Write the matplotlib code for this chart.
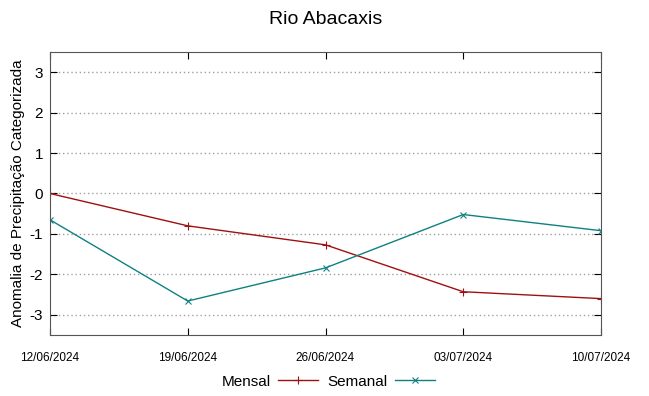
import matplotlib
matplotlib.use("Agg")
import matplotlib.pyplot as plt
from matplotlib.ticker import MultipleLocator

dates = ["12/06/2024", "19/06/2024", "26/06/2024", "03/07/2024", "10/07/2024"]
mensal = [0.0, -0.8, -1.27, -2.43, -2.6]
semanal = [-0.65, -2.66, -1.84, -0.52, -0.92]

plt.rcParams['font.family'] = ['Liberation Sans', 'DejaVu Sans']
plt.rcParams['axes.unicode_minus'] = False

fig = plt.figure(figsize=(6.49, 3.96), dpi=100)
ax = fig.add_axes([50 / 649, 1 - 335 / 396, 551 / 649, 283 / 396])

x = list(range(len(dates)))
ax.plot(x, mensal, color='#a01010', lw=1, marker='+', ms=6, mew=0.8, label='Mensal')
ax.plot(x, semanal, color='#108080', lw=1, marker='x', ms=4.5, mew=0.8, label='Semanal')

ax.set_xlim(0, len(dates) - 1)
ax.set_ylim(-3.5, 3.5)
ax.yaxis.set_major_locator(MultipleLocator(1))
ax.set_xticks(x)
ax.set_xticklabels(dates, fontsize=8.5)
ax.tick_params(axis='y', labelsize=11, direction='in', right=True, length=5, pad=5)
ax.tick_params(axis='x', direction='in', top=True, length=5, pad=12)
ax.grid(axis='y', ls=(0, (1, 2)), color='#a0a0a0', lw=1)
for s in ax.spines.values():
    s.set_color('#555555')

ax.set_ylabel('Anomalia de Precipitação Categorizada', fontsize=11, labelpad=3)
ax.set_title('Rio Abacaxis', fontsize=14, pad=20)

ax.legend(loc='center', bbox_to_anchor=(0.505, -0.165), ncol=2, frameon=False,
          fontsize=11, markerfirst=False, handlelength=2.6, columnspacing=0.6,
          handletextpad=0.5, borderpad=0)

fig.savefig('out.png', dpi=100)
